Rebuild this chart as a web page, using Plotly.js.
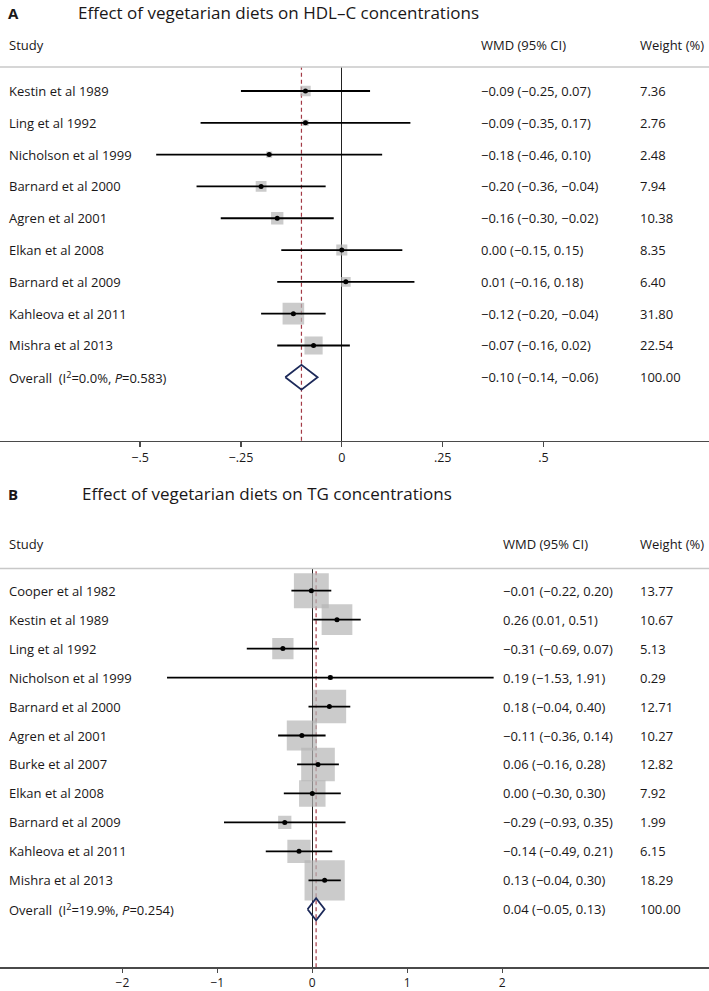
<!DOCTYPE html>
<html>
<head>
<meta charset="utf-8">
<script src="https://cdn.plot.ly/plotly-3.0.1.min.js"></script>
<style>
  html, body { margin: 0; padding: 0; background: #fff; }
  #chart { width: 709px; height: 991px; }
</style>
</head>
<body>
<div id="chart"></div>
<script>
// Panel A - HDL-C
const studiesA = ['Kestin et al 1989', 'Ling et al 1992', 'Nicholson et al 1999', 'Barnard et al 2000',
  'Agren et al 2001', 'Elkan et al 2008', 'Barnard et al 2009', 'Kahleova et al 2011', 'Mishra et al 2013'];
const estA = [-0.09, -0.09, -0.18, -0.20, -0.16, 0.00, 0.01, -0.12, -0.07];
const lowA = [-0.25, -0.35, -0.46, -0.36, -0.30, -0.15, -0.16, -0.20, -0.16];
const highA = [0.07, 0.17, 0.10, -0.04, -0.02, 0.15, 0.18, -0.04, 0.02];
const weightA = [7.36, 2.76, 2.48, 7.94, 10.38, 8.35, 6.40, 31.80, 22.54];
const overallA = [-0.10, -0.14, -0.06];   // est, low, high
const hetA = ['0.0%', '0.583'];
const ticksA = [-0.5, -0.25, 0, 0.25, 0.5];
const tickTextA = ['\u2212.5', '\u2212.25', '0', '.25', '.5'];

// Panel B - TG
const studiesB = ['Cooper et al 1982', 'Kestin et al 1989', 'Ling et al 1992', 'Nicholson et al 1999',
  'Barnard et al 2000', 'Agren et al 2001', 'Burke et al 2007', 'Elkan et al 2008',
  'Barnard et al 2009', 'Kahleova et al 2011', 'Mishra et al 2013'];
const estB = [-0.01, 0.26, -0.31, 0.19, 0.18, -0.11, 0.06, 0.00, -0.29, -0.14, 0.13];
const lowB = [-0.22, 0.01, -0.69, -1.53, -0.04, -0.36, -0.16, -0.30, -0.93, -0.49, -0.04];
const highB = [0.20, 0.51, 0.07, 1.91, 0.40, 0.14, 0.28, 0.30, 0.35, 0.21, 0.30];
const weightB = [13.77, 10.67, 5.13, 0.29, 12.71, 10.27, 12.82, 7.92, 1.99, 6.15, 18.29];
const overallB = [0.04, -0.05, 0.13];
const hetB = ['19.9%', '0.254'];
const ticksB = [-2, -1, 0, 1, 2];
const tickTextB = ['\u22122', '\u22121', '0', '1', '2'];

const W = 709, H = 991;
const FONT = 'Open Sans, Noto Sans, sans-serif';
const INK = '#1a1718';
const py = (p) => 1 - p / H;   // pixel row -> paper y
const px = (p) => p / W;

function fmt(v) {
  return (v < 0 ? '\u2212' : '') + Math.abs(v).toFixed(2);
}

function panelTraces(est, low, high, weight, overall, boxScale, dh, xa, ya) {
  const rows = est.map((_, i) => i);
  const oRow = est.length;
  const boxes = {
    type: 'scatter', mode: 'markers', x: est, y: rows, xaxis: xa, yaxis: ya,
    marker: { symbol: 'square', color: '#b5b5b5', size: weight.map(w => boxScale * Math.sqrt(w)), line: { width: 0 } },
    hoverinfo: 'skip'
  };
  const ci = {
    type: 'scatter', mode: 'markers', x: est, y: rows, xaxis: xa, yaxis: ya,
    marker: { symbol: 'circle', color: '#000', size: 5 },
    error_x: {
      type: 'data', symmetric: false,
      array: est.map((e, i) => high[i] - e),
      arrayminus: est.map((e, i) => e - low[i]),
      color: '#000', thickness: 1.8, width: 0
    },
    hoverinfo: 'skip'
  };
  const diamond = {
    type: 'scatter', mode: 'lines', xaxis: xa, yaxis: ya,
    x: [overall[1], overall[0], overall[2], overall[0], overall[1]],
    y: [oRow, oRow - dh, oRow, oRow + dh, oRow],
    line: { color: '#1d2a5a', width: 1.8 },
    hoverinfo: 'skip'
  };
  return [boxes, ci, diamond];
}

function panelLabels(studies, est, low, high, weight, overall, het, yref, cols) {
  const out = [];
  const base = { xref: 'paper', yref: yref, xanchor: 'left', yanchor: 'middle', showarrow: false,
    font: { family: FONT, size: 13, color: INK } };
  studies.forEach((s, i) => {
    out.push({ ...base, x: px(7), y: i, text: s });
    out.push({ ...base, x: px(cols[0]), y: i, text: `${fmt(est[i])} (${fmt(low[i])}, ${fmt(high[i])})` });
    out.push({ ...base, x: px(cols[1]), y: i, text: weight[i].toFixed(2) });
  });
  const o = studies.length;
  out.push({ ...base, x: px(7), y: o, text: `Overall\u00a0 (I<sup>2</sup>=${het[0]}, <i>P</i>=${het[1]})` });
  out.push({ ...base, x: px(cols[0]), y: o, text: `${fmt(overall[0])} (${fmt(overall[1])}, ${fmt(overall[2])})` });
  out.push({ ...base, x: px(cols[1]), y: o, text: '100.00' });
  return out;
}

function headers(letter, title, yTitle, xTitle, yHead, cols) {
  const base = { xref: 'paper', yref: 'paper', xanchor: 'left', yanchor: 'middle', showarrow: false,
    font: { family: FONT, size: 13, color: INK } };
  return [
    { ...base, x: px(6), y: py(yTitle), text: '<b>' + letter + '</b>', font: { ...base.font, size: 15 } },
    { ...base, x: px(xTitle), y: py(yTitle), text: title, font: { ...base.font, size: 17 } },
    { ...base, x: px(7), y: py(yHead), text: 'Study' },
    { ...base, x: px(cols[0]), y: py(yHead), text: 'WMD (95% CI)' },
    { ...base, x: px(cols[1]), y: py(yHead), text: 'Weight (%)' }
  ];
}

// pixel geometry of each panel
const zeroA = 341.8, unitA = 403.5, row0A = 91, stepA = 31.81, sepA = 67, axisA = 440.7;
const zeroB = 312.3, unitB = 94.95, row0B = 590.7, stepB = 28.96, sepB = 568.5, axisB = 967.3;
const colsA = [479, 638], colsB = [501, 638];

const traces = [
  ...panelTraces(estA, lowA, highA, weightA, overallA, 3.83, 0.39, 'x', 'y'),
  ...panelTraces(estB, lowB, highB, weightB, overallB, 9.4, 0.38, 'x2', 'y2')
];

const xCommon = {
  showline: true, linecolor: '#4a4a4a', linewidth: 1.5, ticks: 'outside', ticklen: 5, tickcolor: '#4a4a4a', tickwidth: 1.3,
  showgrid: false, zeroline: true, zerolinecolor: '#222', zerolinewidth: 1.3,
  tickfont: { family: FONT, size: 12.5, color: INK }, fixedrange: true
};
const yCommon = { visible: false, showgrid: false, zeroline: false, fixedrange: true };

const layout = {
  width: W, height: H,
  margin: { l: 0, r: 0, t: 0, b: 0 },
  paper_bgcolor: '#fff', plot_bgcolor: 'rgba(0,0,0,0)',
  showlegend: false,
  xaxis: { ...xCommon, anchor: 'y', domain: [0, 1],
    range: [-zeroA / unitA, (W - zeroA) / unitA], tickvals: ticksA, ticktext: tickTextA },
  yaxis: { ...yCommon, domain: [py(axisA), py(sepA)],
    range: [(axisA - row0A) / stepA, (sepA - row0A) / stepA] },
  // bottom axis sits close to the page edge, so keep its labels tight
  xaxis2: { ...xCommon, anchor: 'y2', domain: [0, 1], ticklen: 4, tickfont: { ...xCommon.tickfont, size: 12 },
    range: [-zeroB / unitB, (W - zeroB) / unitB], tickvals: ticksB, ticktext: tickTextB },
  yaxis2: { ...yCommon, domain: [py(axisB), py(sepB)],
    range: [(axisB - row0B) / stepB, (sepB - row0B) / stepB] },
  shapes: [
    { type: 'line', xref: 'paper', yref: 'paper', x0: 0, x1: 1, y0: py(sepA), y1: py(sepA), line: { color: '#c8c8c8', width: 1.5 } },
    { type: 'line', xref: 'paper', yref: 'paper', x0: 0, x1: 1, y0: py(sepB), y1: py(sepB), line: { color: '#c8c8c8', width: 1.5 } },
    { type: 'line', layer: 'below', xref: 'x', yref: 'y domain', x0: overallA[0], x1: overallA[0], y0: 0, y1: 1,
      line: { color: '#a33a46', width: 1.2, dash: '4px,3px' } },
    { type: 'line', layer: 'below', xref: 'x2', yref: 'y2 domain', x0: overallB[0], x1: overallB[0], y0: 0, y1: 1,
      line: { color: '#a33a46', width: 1.2, dash: '4px,3px' } }
  ],
  annotations: [
    ...headers('A', 'Effect of vegetarian diets on HDL\u2013C concentrations', 13, 76, 45, colsA),
    ...panelLabels(studiesA, estA, lowA, highA, weightA, overallA, hetA, 'y', colsA),
    ...headers('B', 'Effect of vegetarian diets on TG concentrations', 494, 80, 544, colsB),
    ...panelLabels(studiesB, estB, lowB, highB, weightB, overallB, hetB, 'y2', colsB)
  ]
};

Plotly.newPlot('chart', traces, layout, { staticPlot: true, displayModeBar: false });
</script>
</body>
</html>
